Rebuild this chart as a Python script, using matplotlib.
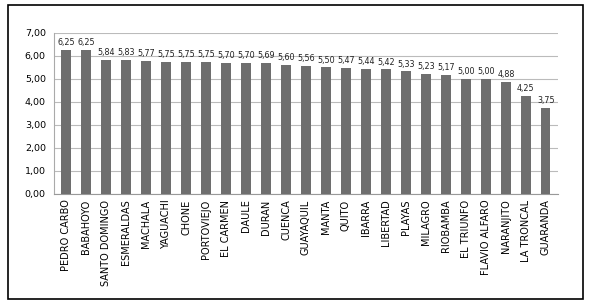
import numpy as np
import matplotlib.pyplot as plt
from matplotlib.patches import Rectangle

# Data
cities = ['PEDRO CARBO', 'BABAHOYO', 'SANTO DOMINGO', 'ESMERALDAS', 'MACHALA',
          'YAGUACHI', 'CHONE', 'PORTOVIEJO', 'EL CARMEN', 'DAULE', 'DURAN',
          'CUENCA', 'GUAYAQUIL', 'MANTA', 'QUITO', 'IBARRA', 'LIBERTAD',
          'PLAYAS', 'MILAGRO', 'RIOBAMBA', 'EL TRIUNFO', 'FLAVIO ALFARO',
          'NARANJITO', 'LA TRONCAL', 'GUARANDA']
values = [6.25, 6.25, 5.84, 5.83, 5.77, 5.75, 5.75, 5.75, 5.70, 5.70, 5.69,
          5.60, 5.56, 5.50, 5.47, 5.44, 5.42, 5.33, 5.23, 5.17, 5.00, 5.00,
          4.88, 4.25, 3.75]

def fmt(v):
    return f'{v:.2f}'.replace('.', ',')

fig = plt.figure(figsize=(5.89, 3.05), dpi=100)
ax = fig.add_axes([0.092, 0.364, 0.855, 0.528])

x = np.arange(len(cities))
ax.bar(x, values, width=0.47, color='#6e6e6e', zorder=3)

for xi, v in zip(x, values):
    ax.text(xi, v + 0.12, fmt(v), ha='center', va='bottom', fontsize=5.8,
            color='#222222')

ax.set_ylim(0, 7)
ax.set_xlim(-0.6, len(cities) - 0.4)
yt = np.arange(0, 8, 1.0)
ax.set_yticks(yt)
ax.set_yticklabels([fmt(v) for v in yt], fontsize=6.8)
ax.set_xticks(x)
ax.set_xticklabels(cities, rotation=90, fontsize=7)
ax.tick_params(axis='both', length=0, pad=6)
ax.tick_params(axis='x', pad=4)
ax.grid(axis='y', color='#bbbbbb', linewidth=0.8, zorder=0)
for s in ['top', 'right']:
    ax.spines[s].set_visible(False)
ax.spines['left'].set_color('#aaaaaa')
ax.spines['bottom'].set_color('#999999')

# Outer frame
fig.patches.append(Rectangle((8 / 589, 6 / 305), 575 / 589, 294 / 305,
                             transform=fig.transFigure, fill=False,
                             edgecolor='black', linewidth=1.2))

plt.savefig('out.png', dpi=100)
